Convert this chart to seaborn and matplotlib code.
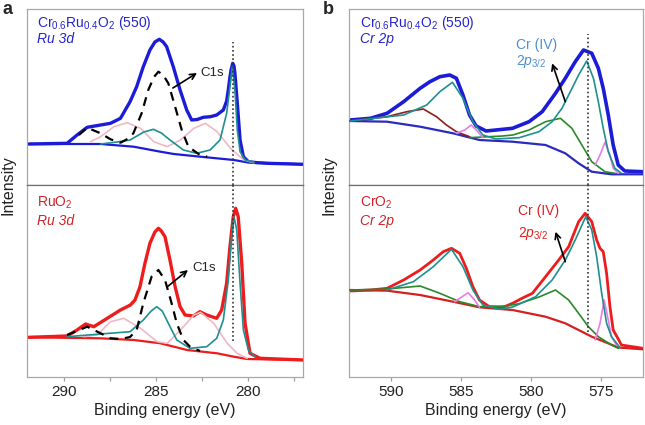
import seaborn as sns
import matplotlib.pyplot as plt
from matplotlib.ticker import MultipleLocator

# ---- a, top: Cr0.6Ru0.4O2 (550), Ru 3d ----
ru1_e = [291.9, 289.82, 289.28, 288.73, 288.0, 287.46, 286.92, 286.4, 286.04, 285.68, 285.32, 285.05,
         284.81, 284.6, 284.41, 284.05, 283.68, 283.32, 283.05, 282.75, 282.42, 282.03, 281.69, 281.33,
         281.15, 281.06, 280.97, 280.91, 280.82, 280.75, 280.7, 280.57, 280.42, 280.24, 279.97, 279.5,
         278.95, 277.0]
ru1_y = [41, 41.7, 50, 57.7, 60, 61.7, 66.7, 83.3, 98.3, 118.3, 135, 143,
         145.7, 143, 138.3, 118.3, 95, 75, 65, 65.5, 67.7, 68.3, 70, 75,
         84, 95, 108, 115, 121.7, 119, 111.7, 81.7, 45, 28.3, 23.3, 22.3,
         21.7, 20.7]
ru1_base_e = [291.9, 288.0, 286.2, 284.75, 284.02, 282.57, 280.76, 280.04, 277.0]
ru1_base_y = [41, 41, 38.3, 33.3, 31, 28.3, 25, 22.7, 20.7]
ru1_c1s_e = [289.18, 288.73, 288.0, 287.46, 286.92, 286.47, 286.22, 285.77, 285.41, 285.1, 284.86,
             284.6, 284.32, 283.95, 283.59, 283.23, 282.6, 282.21]
ru1_c1s_y = [50, 57.3, 51.7, 45.7, 42.3, 46.7, 51.7, 71.7, 95, 108, 113.3, 110, 101.7, 78.3, 55,
             38.3, 30, 28.3]
ru1_teal_e = [288.0, 287.1, 286.4, 285.65, 285.13, 284.7, 284.23, 283.5, 282.78, 282.05, 281.51,
              281.15, 280.97, 280.84, 280.7, 280.57, 280.42, 280.15, 279.67]
ru1_teal_y = [41, 43, 45, 53, 55.7, 52, 45, 35, 31.7, 35, 45, 71.7, 98.3, 118.3, 95, 55, 33.3, 25, 22.7]
ru1_pink_e = [288.55, 288.0, 287.28, 286.56, 285.83, 285.11, 284.38, 283.66, 282.93, 282.3, 281.67,
              280.94, 280.22, 279.67]
ru1_pink_y = [43.3, 48.3, 58.3, 62.3, 56.7, 43.3, 38.3, 45, 56.7, 61.7, 53.3, 36.7, 25, 22.3]

# ---- a, bottom: RuO2, Ru 3d ----
ru2_e = [291.9, 289.82, 289.28, 288.82, 288.37, 287.64, 286.92, 286.38, 286.13, 285.86, 285.59, 285.32,
         285.05, 284.86, 284.7, 284.5, 284.23, 283.95, 283.68, 283.41, 282.96, 282.6, 282.23, 281.69,
         281.42, 281.15, 280.97, 280.79, 280.66, 280.52, 280.33, 280.15, 279.88, 279.34, 277.0]
ru2_y = [39.7, 41, 47, 53, 50.3, 58.7, 67, 72, 77, 90.3, 113.7, 133.7,
         145, 148.7, 146, 140.3, 117, 90.3, 70.3, 62, 61, 65.3, 62, 58.7,
         67, 93.7, 130.3, 160.3, 168.7, 160.3, 113.7, 53.7, 23.7, 18.7, 17]
ru2_base_e = [291.9, 288.0, 286.2, 284.75, 283.3, 281.67, 280.76, 280.04, 277.0]
ru2_base_y = [39.7, 38.7, 37, 33.7, 27, 23.7, 20.3, 18, 17]
ru2_c1s_e = [289.82, 288.73, 288.0, 287.46, 286.9, 286.4, 286.04, 285.68, 285.23, 284.86, 284.5,
             284.14, 283.86, 283.5, 283.14, 282.6]
ru2_c1s_y = [42, 50.3, 43.7, 38.7, 38, 40, 47, 73.7, 100.3, 107, 97, 73.7, 53.7, 37, 30.3, 26]
ru2_teal_e = [289.82, 288.0, 286.4, 285.68, 285.25, 284.95, 284.65, 284.32, 283.86, 283.14, 282.23,
              281.69, 281.33, 281.06, 280.88, 280.75, 280.6, 280.42, 280.24, 279.97, 279.6]
ru2_teal_y = [40.3, 43, 45.3, 57, 66, 70.3, 66, 53.7, 37, 28.7, 30.3, 38.7, 57, 97, 140.3, 160.3,
              147, 93.7, 47, 27, 20]
ru2_pink_e = [288.91, 288.19, 287.46, 286.74, 285.83, 284.93, 284.38, 283.66, 282.93, 282.57, 281.85,
              281.12, 280.58, 280.04]
ru2_pink_y = [40.3, 42, 55.3, 58.7, 48.7, 35.3, 33.7, 47, 62, 64.7, 53.7, 33.7, 23.7, 18.7]

# ---- b, top: Cr0.6Ru0.4O2 (550), Cr 2p ----
cr1_e = [592.92, 591.46, 590.28, 589.1, 587.92, 587.22, 586.51, 585.8, 585.33, 584.86, 584.39, 583.92,
         583.21, 582.5, 581.32, 580.14, 579.2, 578.25, 577.55, 576.84, 576.25, 575.66, 575.19, 574.84,
         574.48, 574.13, 573.77, 573.3, 572.0]
cr1_y = [65, 66.7, 71.7, 83.3, 96.7, 103.3, 108.3, 110, 106.7, 90, 70, 59,
         54, 55, 56.7, 63.3, 73.3, 91.7, 106.7, 123.3, 135, 131.7, 116.7, 96.7,
         70, 40, 20, 14, 13.3]
cr1_base_e = [592.92, 590.28, 587.92, 585.57, 583.68, 581.32, 578.96, 577.55, 576.6, 575.66, 574.25, 572.0]
cr1_base_y = [64, 63.3, 58.3, 51.7, 45, 43.3, 40, 31.7, 21.7, 13.3, 10.7, 10.7]
cr1_teal_e = [592.92, 589.1, 587.45, 586.51, 585.61, 584.86, 584.15, 583.44, 582.5, 580.85, 579.43,
              578.49, 577.79, 577.19, 576.6, 576.02, 575.54, 575.19, 574.84, 574.48, 574.01, 573.54]
cr1_teal_y = [64, 70, 80, 93.3, 102.7, 86.7, 63.3, 50, 46, 47.3, 53.3, 63.3, 76.7, 93.3, 110, 124,
              106.7, 83.3, 56.7, 33.3, 16.7, 11.7]
cr1_brown_e = [592.92, 590.28, 588.87, 587.69, 586.75, 586.04, 585.33, 584.39]
cr1_brown_y = [64, 68.3, 73.3, 76, 68.3, 60, 53.3, 48.3]
cr1_green_e = [584.39, 582.03, 581.3, 580.14, 578.96, 577.9, 577.08, 576.37, 575.66, 574.72, 574.0]
cr1_green_y = [47.3, 49, 50, 55, 63.3, 66.7, 56.7, 40, 23.3, 13.3, 11.7]
cr1_mag1_e = [585.33, 584.74, 584.27, 583.8, 583.44]
cr1_mag1_y = [51.7, 55, 60, 53.3, 47.3]
cr1_mag2_e = [575.42, 575.07, 574.72, 574.36, 574.13, 573.77]
cr1_mag2_y = [20, 30, 42.7, 30, 16.7, 11.7]

# ---- b, bottom: CrO2, Cr 2p ----
cr2_e = [592.92, 591.46, 590.28, 589.1, 587.92, 586.98, 586.27, 585.68, 585.09, 584.62, 584.15, 583.68,
         582.97, 582.03, 581.32, 580.6, 579.9, 578.96, 578.02, 577.31, 576.6, 576.13, 575.66, 575.31,
         575.07, 574.84, 574.6, 574.36, 574.13, 573.77, 573.54, 572.0]
cr2_y = [86, 87, 88.7, 97, 107, 117, 125.3, 128.7, 123.7, 108.7, 90.3, 77,
         70.3, 69.5, 73.7, 79, 83.7, 100.3, 117, 130.3, 155.3, 163.7, 155.3, 137,
         128.7, 125.3, 103.7, 70.3, 47, 38, 32, 28.7]
cr2_base_e = [592.92, 590.28, 587.92, 585.57, 583.68, 581.32, 578.96, 577.55, 576.6, 575.66, 574.72,
              573.77, 572.0]
cr2_base_y = [87, 86.3, 82, 75.3, 69.7, 67, 60.3, 53.7, 47, 40.3, 35, 29.5, 27.7]
cr2_teal_e = [590.28, 588.4, 586.98, 585.68, 584.86, 584.15, 583.44, 582.26, 581.3, 579.67, 578.49,
              577.55, 576.84, 576.09, 575.66, 575.31, 574.95, 574.6, 574.25, 573.66]
cr2_teal_y = [87, 95.3, 110.3, 127.7, 110.3, 87, 72, 67.7, 70, 80.3, 97, 117, 137, 160.3, 147, 120.3,
              83.7, 53.7, 40.3, 29.7]
cr2_green_e = [592.92, 590.28, 587.92, 586.51, 585.09, 583.68, 581.79, 580.85, 579.43, 578.25, 577.31,
               576.6, 575.9, 575.19, 574.25, 573.77]
cr2_green_y = [87, 88, 91, 83.7, 75.3, 70.3, 71, 73.3, 80, 87, 77, 63.7, 50.3, 40.3, 32, 28.7]
cr2_mag1_e = [585.45, 584.98, 584.5, 584.03, 583.68]
cr2_mag1_y = [75.3, 79.7, 84.3, 77, 69.7]
cr2_mag2_e = [575.42, 575.07, 574.77, 574.48, 574.25, 573.9]
cr2_mag2_y = [37, 53.7, 77, 57, 40.3, 32]

ru_ref = 280.8   # dotted reference, Ru 3d5/2
cr_ref = 575.9   # dotted reference, Cr 2p3/2

BLUE = '#1c1cd8'
RED = '#ee1c1c'
TEAL = '#1f8f8f'
PINK = '#f0b8c4'
MAG = '#e67ee6'
GREEN = '#2a8a2a'
BROWN = '#8b1f1f'

sns.set_style('white')
plt.rcParams['font.family'] = ['Liberation Sans', 'DejaVu Sans']
plt.rcParams['mathtext.fontset'] = 'custom'
plt.rcParams['mathtext.rm'] = 'Liberation Sans'
plt.rcParams['mathtext.it'] = 'Liberation Sans:italic'
plt.rcParams['lines.solid_joinstyle'] = 'round'
plt.rcParams['lines.solid_capstyle'] = 'round'


def line(ax, e, y, color, lw=1.2, ls='-', z=3):
    sns.lineplot(x=e, y=y, ax=ax, color=color, lw=lw, ls=ls, sort=False,
                 estimator=None, legend=False, zorder=z)


fig = plt.figure(figsize=(6.45, 4.25), dpi=100)
W, H = 645, 425
lx, lw_ = 27 / W, 276 / W
rx, rw_ = 349 / W, 294 / W
ty, th = (H - 185) / H, 176 / H
by, bh = (H - 377) / H, 192 / H
ax_tl = fig.add_axes([lx, ty, lw_, th])
ax_bl = fig.add_axes([lx, by, lw_, bh])
ax_tr = fig.add_axes([rx, ty, rw_, th])
ax_br = fig.add_axes([rx, by, rw_, bh])

# Ru panels
line(ax_tl, ru1_e, ru1_y, BLUE, lw=2.4, z=2)
line(ax_tl, ru1_base_e, ru1_base_y, BLUE, lw=1.6)
line(ax_tl, ru1_pink_e, ru1_pink_y, PINK)
line(ax_tl, ru1_teal_e, ru1_teal_y, TEAL)
line(ax_tl, ru1_c1s_e, ru1_c1s_y, 'black', lw=1.6, ls=(0, (4, 3)), z=4)

line(ax_bl, ru2_e, ru2_y, RED, lw=2.4, z=2)
line(ax_bl, ru2_base_e, ru2_base_y, RED, lw=1.6)
line(ax_bl, ru2_pink_e, ru2_pink_y, PINK)
line(ax_bl, ru2_teal_e, ru2_teal_y, TEAL)
line(ax_bl, ru2_c1s_e, ru2_c1s_y, 'black', lw=1.6, ls=(0, (4, 3)), z=4)

# Cr panels
line(ax_tr, cr1_e, cr1_y, BLUE, lw=2.6, z=2)
line(ax_tr, cr1_base_e, cr1_base_y, '#2a2ac0', lw=1.6)
line(ax_tr, cr1_brown_e, cr1_brown_y, BROWN)
line(ax_tr, cr1_green_e, cr1_green_y, GREEN)
line(ax_tr, cr1_mag1_e, cr1_mag1_y, MAG)
line(ax_tr, cr1_mag2_e, cr1_mag2_y, MAG)
line(ax_tr, cr1_teal_e, cr1_teal_y, TEAL)

line(ax_br, cr2_e, cr2_y, RED, lw=2.0, z=2)
line(ax_br, cr2_base_e, cr2_base_y, '#d42020', lw=1.6)
line(ax_br, cr2_green_e, cr2_green_y, GREEN)
line(ax_br, cr2_mag1_e, cr2_mag1_y, MAG)
line(ax_br, cr2_mag2_e, cr2_mag2_y, MAG)
line(ax_br, cr2_teal_e, cr2_teal_y, TEAL)

dot = dict(color='#333333', ls=(0, (1, 1.5)), lw=1.2, zorder=5)
ax_tl.axvline(ru_ref, ymin=0, ymax=0.81, **dot)
ax_bl.axvline(ru_ref, ymin=0.19, ymax=1, **dot)
ax_tr.axvline(cr_ref, ymin=0, ymax=0.86, **dot)
ax_br.axvline(cr_ref, ymin=0.236, ymax=1, **dot)

for ax in (ax_tl, ax_bl):
    ax.set_xlim(292, 277)
    ax.xaxis.set_major_locator(MultipleLocator(2.5))
for ax in (ax_tr, ax_br):
    ax.set_xlim(593, 572)
    ax.xaxis.set_major_locator(MultipleLocator(5))
for ax in (ax_tl, ax_tr):
    ax.set_ylim(0, 176)
for ax in (ax_bl, ax_br):
    ax.set_ylim(0, 192)

for ax in (ax_tl, ax_bl, ax_tr, ax_br):
    ax.set_yticks([])
    ax.set_ylabel('')
    ax.set_xlabel('')
    for s in ax.spines.values():
        s.set_color('#a8a8a8')
        s.set_linewidth(0.9)
    ax.tick_params(axis='x', direction='out', length=3, width=0.9, color='#a0a0a0',
                   labelsize=11, labelcolor='#222222', pad=3, bottom=True)
for ax in (ax_tl, ax_tr):
    ax.tick_params(axis='x', labelbottom=False)
    ax.spines['bottom'].set_color('#707070')
for ax in (ax_bl, ax_br):
    ax.spines['top'].set_color('#707070')

ax_bl.set_xticks([290, 287.5, 285, 282.5, 280, 277.5])
ax_bl.set_xticklabels(['290', '', '285', '', '280', ''])
ax_bl.set_xlim(292, 277)

for ax in (ax_bl, ax_br):
    ax.set_xlabel('Binding energy (eV)', fontsize=11.5, color='#222222', labelpad=3)

# labels
dark_blue = '#2424d0'
dark_red = '#cc2428'
for ax, sub in ((ax_tl, 'Ru 3d'), (ax_tr, 'Cr 2p')):
    ax.text(0.036, 0.92, r'Cr$_{0.6}$Ru$_{0.4}$O$_2$ (550)', transform=ax.transAxes,
            color=dark_blue, fontsize=10, va='center', ha='left')
    ax.text(0.036, 0.83, sub, transform=ax.transAxes, color=dark_blue, fontsize=10,
            style='italic', va='center', ha='left')
ax_bl.text(0.036, 0.905, r'RuO$_2$', transform=ax_bl.transAxes, color=dark_red,
           fontsize=10, va='center', ha='left')
ax_bl.text(0.036, 0.81, 'Ru 3d', transform=ax_bl.transAxes, color=dark_red, fontsize=10,
           style='italic', va='center', ha='left')
ax_br.text(0.036, 0.905, r'CrO$_2$', transform=ax_br.transAxes, color=dark_red,
           fontsize=10, va='center', ha='left')
ax_br.text(0.036, 0.81, 'Cr 2p', transform=ax_br.transAxes, color=dark_red, fontsize=10,
           style='italic', va='center', ha='left')

arrow = dict(arrowstyle='->', color='black', lw=1.2, shrinkA=0, shrinkB=0)
ax_tl.annotate('', xy=(282.76, 112), xytext=(284.07, 97), arrowprops=arrow)
ax_tl.text(282.6, 112, 'C1s', fontsize=9.5, va='center', ha='left')
ax_bl.annotate('', xy=(283.25, 107), xytext=(284.39, 90), arrowprops=arrow)
ax_bl.text(283.03, 109, 'C1s', fontsize=9.5, va='center', ha='left')

light_blue = '#4f8fcf'
ax_tr.annotate('', xy=(578.49, 121.7), xytext=(577.55, 83.3), arrowprops=arrow)
ax_tr.text(581.08, 140, 'Cr (IV)', color=light_blue, fontsize=10, va='center', ha='left')
ax_tr.text(581.08, 123, r'$\mathit{2p}_{\mathit{3/2}}$', color=light_blue, fontsize=10,
           va='center', ha='left')
ax_br.annotate('', xy=(578.25, 145.3), xytext=(577.55, 115.3), arrowprops=arrow)
ax_br.text(580.9, 166, 'Cr (IV)', color='#e02020', fontsize=10, va='center', ha='left')
ax_br.text(580.9, 144, r'$\mathit{2p}_{\mathit{3/2}}$', color='#e02020', fontsize=10,
           va='center', ha='left')

fig.text(0.013, 0.565, 'Intensity', rotation=90, fontsize=11.5, color='#222222', va='center', ha='center')
fig.text(0.51, 0.565, 'Intensity', rotation=90, fontsize=11.5, color='#222222', va='center', ha='center')
fig.text(0.004, 0.978, 'a', fontsize=13, fontweight='bold', va='center', ha='left')
fig.text(0.500, 0.978, 'b', fontsize=13, fontweight='bold', va='center', ha='left')

fig.savefig('out.png', dpi=100)
